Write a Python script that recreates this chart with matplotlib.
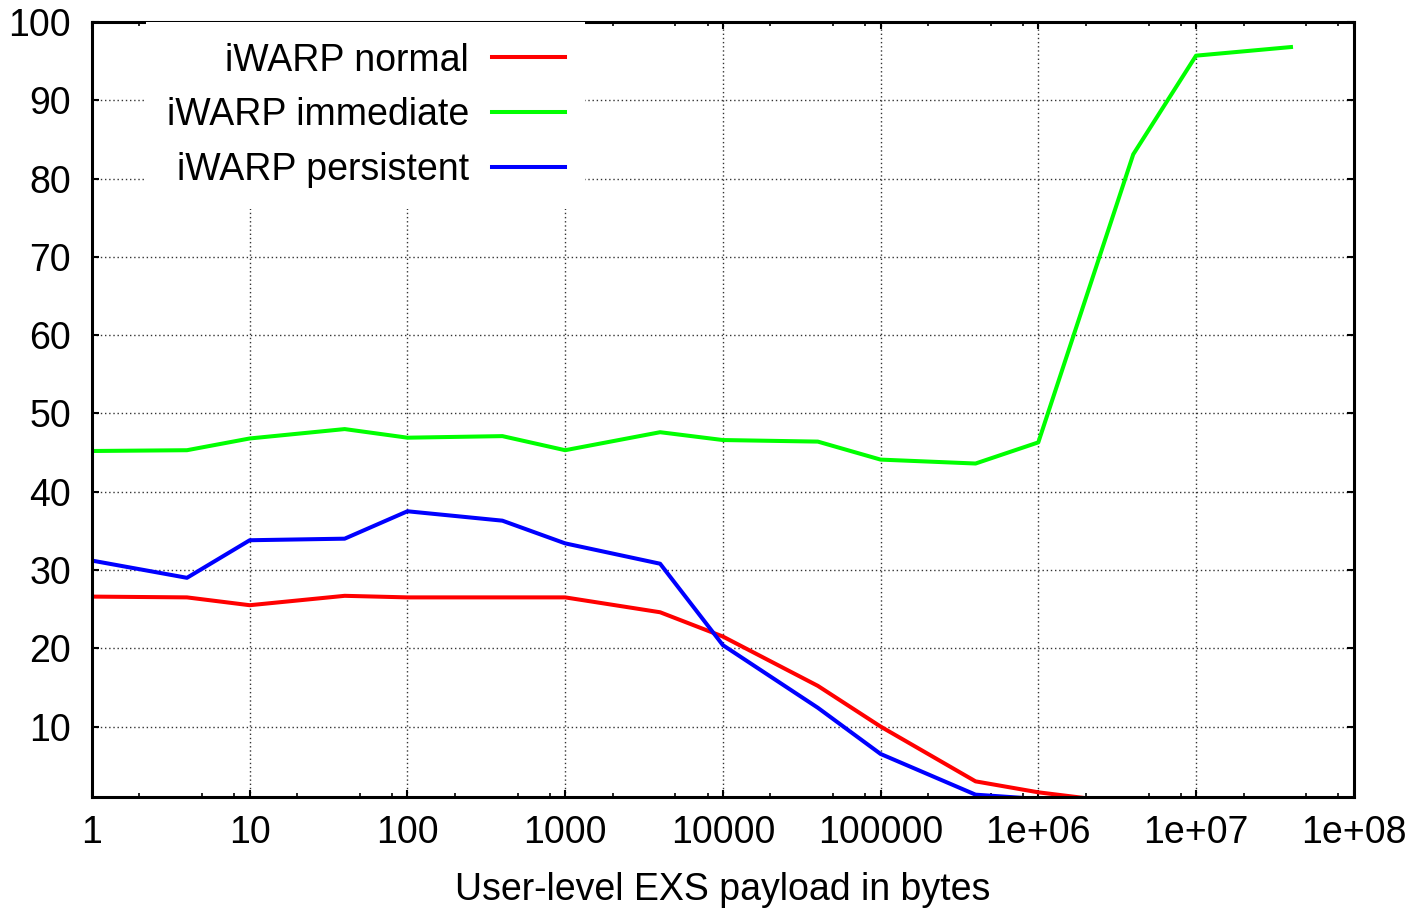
import matplotlib
matplotlib.use("Agg")
import matplotlib.pyplot as plt
from matplotlib.ticker import FixedLocator, FixedFormatter, NullFormatter

plt.rcParams['font.family'] = ['Liberation Sans', 'DejaVu Sans']

# payload sizes (bytes)
sizes = [1, 4, 10, 40, 100, 400, 1000, 4000, 10000, 40000,
         100000, 400000, 1e6, 4e6, 1e7, 4e7]

normal = [26.6, 26.5, 25.5, 26.7, 26.5, 26.5, 26.5, 24.6, 21.5, 15.2,
          10.0, 3.0, 1.6, 0.1]
immediate = [45.2, 45.3, 46.8, 48.0, 46.9, 47.1, 45.3, 47.6, 46.6, 46.4,
             44.1, 43.6, 46.3, 83.1, 95.7, 96.8]
persistent = [31.2, 29.0, 33.8, 34.0, 37.5, 36.3, 33.4, 30.8, 20.4, 12.4,
              6.5, 1.3, 0.75]

x_ticks = [1, 10, 100, 1000, 10000, 100000, 1e6, 1e7, 1e8]
x_labels = ["1", "10", "100", "1000", "10000", "100000", "1e+06", "1e+07", "1e+08"]
x_minor = [m * 10 ** d for d in range(8) for m in (2, 5, 8)]
y_ticks = [10, 20, 30, 40, 50, 60, 70, 80, 90, 100]

fig = plt.figure(figsize=(14.22, 9.09), dpi=100)
ax = fig.add_axes([0.0647, 0.1232, 0.8873, 0.8526])

ax.plot(sizes[:len(normal)], normal, color='#ff0000', lw=2.9, label='iWARP normal')
ax.plot(sizes, immediate, color='#00ff00', lw=2.9, label='iWARP immediate')
ax.plot(sizes[:len(persistent)], persistent, color='#0000ff', lw=2.9, label='iWARP persistent')

ax.set_xscale('log')
ax.set_xlim(1, 1e8)
ax.set_ylim(1, 100)

ax.xaxis.set_major_locator(FixedLocator(x_ticks))
ax.xaxis.set_major_formatter(FixedFormatter(x_labels))
ax.xaxis.set_minor_locator(FixedLocator(x_minor))
ax.xaxis.set_minor_formatter(NullFormatter())
ax.set_yticks(y_ticks)
ax.set_yticklabels([str(v) for v in y_ticks])

ax.tick_params(which='both', direction='in', top=True, right=True, labelsize=27)
ax.tick_params(which='major', length=5, width=1.5)
ax.tick_params(which='minor', length=3, width=1.2)
ax.tick_params(axis='x', pad=13)
ax.tick_params(axis='y', pad=15)

for s in ax.spines.values():
    s.set_linewidth(2.2)

ax.grid(True, which='major', linestyle=(0, (1, 2)), color='#333333', lw=1)

ax.set_xlabel('User-level EXS payload in bytes', fontsize=27, labelpad=15)

leg = ax.legend(loc='upper right', bbox_to_anchor=(0.391, 1.0), markerfirst=False,
                fontsize=27, frameon=True, fancybox=False, borderaxespad=0,
                borderpad=0.55, labelspacing=0.5, handlelength=1.95,
                handletextpad=0.6)
leg.get_frame().set_facecolor('white')
leg.get_frame().set_edgecolor('none')
leg.get_frame().set_alpha(1)

fig.savefig('out.png', dpi=100)
